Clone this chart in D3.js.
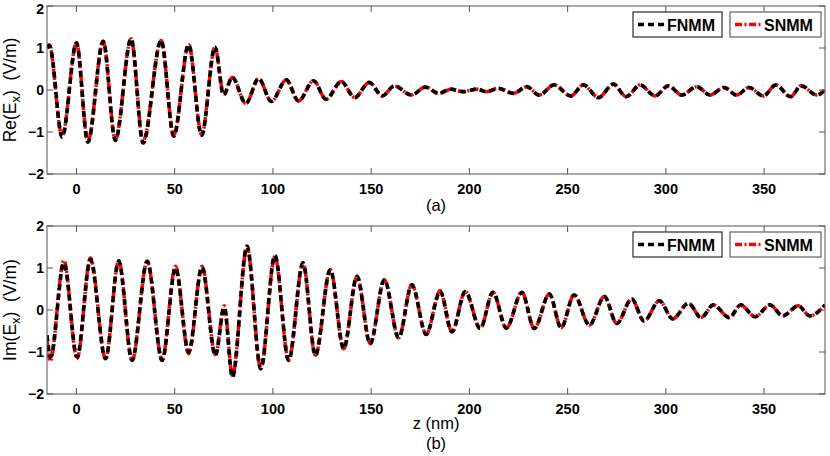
<!DOCTYPE html>
<html>
<head>
<meta charset="utf-8">
<script src="https://cdn.jsdelivr.net/npm/d3@7"></script>
<style>
  body { margin: 0; background: #fff; }
  text { font-family: "Liberation Sans", Arial, Helvetica, sans-serif; }
</style>
</head>
<body>
<svg id="chart" width="830" height="456"></svg>
<script>
// axis ticks
var zTicks = [0, 50, 100, 150, 200, 250, 300, 350];
var fieldTicks = [-2, -1, 0, 1, 2];
var seriesNames = ["FNMM", "SNMM"];

// Re(Ex): [z (nm), value (V/m)] read at the turning points of the curves
var reFNMM = [[-15, 1.0], [-13.7, 1.05], [-7.3, -1.12], [0, 1.12], [5.8, -1.24], [13.6, 1.16],
  [19.8, -1.2], [27.8, 1.22], [33.9, -1.26], [43.1, 1.18], [49.5, -1.1], [57.1, 1.08],
  [63.7, -1.08], [70.5, 1.02], [74.9, -0.12], [79.3, 0.3], [86.2, -0.32], [92.7, 0.27],
  [99.2, -0.27], [106.8, 0.24], [113, -0.26], [120.7, 0.22], [127, -0.22], [134.8, 0.2],
  [141.6, -0.18], [149, 0.18], [155.7, -0.14], [161.8, 0.1], [170.4, -0.12], [177.7, 0.07],
  [184.3, -0.08], [190.6, 0.02], [196.7, -0.04], [203.8, 0.02], [208.9, -0.04], [214.5, 0.04],
  [222.5, -0.08], [229.2, 0.08], [235.5, -0.12], [243.1, 0.12], [251.6, -0.14], [258, 0.12],
  [265.7, -0.18], [273.3, 0.14], [279.8, -0.16], [286.9, 0.12], [294.5, -0.14], [301.3, 0.1],
  [308.1, -0.12], [315.7, 0.08], [322.5, -0.12], [329.6, 0.06], [336, -0.12], [342.3, 0.06],
  [349.6, -0.14], [356, 0.12], [363.5, -0.16], [368.8, 0.1], [376.8, -0.12], [381, 0]];
var reSNMM = [[-15, 1.02], [-13.9, 1.08], [-7.3, -1.1], [0, 1.12], [5.8, -1.22], [13.6, 1.16],
  [19.8, -1.18], [27.8, 1.22], [33.9, -1.22], [43.1, 1.18], [49.5, -1.08], [57.1, 1.08],
  [63.7, -1.06], [70.5, 1.02], [74.9, -0.1], [79.3, 0.3], [86.2, -0.32], [92.7, 0.27],
  [99.2, -0.27], [106.8, 0.24], [113, -0.26], [120.7, 0.22], [127, -0.22], [134.8, 0.2],
  [141.6, -0.18], [149, 0.18], [155.7, -0.14], [161.8, 0.1], [170.4, -0.12], [177.7, 0.07],
  [184.3, -0.08], [190.6, 0.02], [196.7, -0.04], [203.8, 0.02], [208.9, -0.04], [214.5, 0.04],
  [222.5, -0.08], [229.2, 0.08], [235.5, -0.12], [243.1, 0.12], [251.6, -0.14], [258, 0.12],
  [265.7, -0.18], [273.3, 0.14], [279.8, -0.16], [286.9, 0.12], [294.5, -0.14], [301.3, 0.1],
  [308.1, -0.12], [315.7, 0.08], [322.5, -0.12], [329.6, 0.06], [336, -0.12], [342.3, 0.06],
  [349.6, -0.14], [356, 0.12], [363.5, -0.16], [368.8, 0.1], [376.8, -0.12], [381, 0]];

// Im(Ex)
var imFNMM = [[-15, -0.6], [-13.2, -1.12], [-6.4, 1.12], [0.3, -1.12], [7.1, 1.2], [14.8, -1.16],
  [21.5, 1.16], [28.3, -1.2], [36, 1.16], [43.6, -1.2], [50.4, 1.0], [57.1, -1.0],
  [63.9, 1.02], [70.7, -1.08], [75.2, 0.06], [79.4, -1.6], [86.8, 1.52], [93.8, -1.4],
  [101, 1.3], [108, -1.2], [115.3, 1.12], [121.6, -1.08], [129.2, 0.96], [136, -0.92],
  [142.8, 0.8], [149.5, -0.8], [156.7, 0.72], [164, -0.66], [170.7, 0.6], [178, -0.58],
  [185.1, 0.44], [191.1, -0.52], [197.9, 0.44], [205.5, -0.44], [212, 0.42], [218.8, -0.43],
  [226.7, 0.42], [233, -0.44], [240.7, 0.38], [246.7, -0.42], [253.3, 0.36], [261.1, -0.36],
  [268.7, 0.32], [275, -0.32], [282.6, 0.26], [288.9, -0.26], [296.7, 0.22], [303.5, -0.21],
  [311.5, 0.16], [317.9, -0.18], [324.2, 0.12], [332.3, -0.18], [338.1, 0.12], [345.4, -0.16],
  [353, 0.12], [359.5, -0.14], [367.4, 0.1], [373.3, -0.14], [381, 0.12]];
var imSNMM = [[-15, -0.7], [-13.4, -1.22], [-6.4, 1.18], [0.3, -1.16], [7.1, 1.24], [14.8, -1.16],
  [21.5, 1.18], [28.3, -1.2], [36, 1.16], [43.6, -1.18], [50.4, 1.04], [57.1, -1.04],
  [63.9, 1.04], [70.7, -1.06], [75.2, 0.1], [79.4, -1.56], [86.8, 1.5], [93.8, -1.38],
  [101, 1.28], [108, -1.2], [115.3, 1.12], [121.6, -1.08], [129.2, 0.96], [136, -0.92],
  [142.8, 0.8], [149.5, -0.8], [156.7, 0.72], [164, -0.66], [170.7, 0.6], [178, -0.58],
  [185.1, 0.46], [191.1, -0.52], [197.9, 0.44], [205.5, -0.44], [212, 0.42], [218.8, -0.43],
  [226.7, 0.42], [233, -0.44], [240.7, 0.38], [246.7, -0.42], [253.3, 0.36], [261.1, -0.36],
  [268.7, 0.32], [275, -0.32], [282.6, 0.26], [288.9, -0.26], [296.7, 0.22], [303.5, -0.21],
  [311.5, 0.16], [317.9, -0.18], [324.2, 0.12], [332.3, -0.18], [338.1, 0.12], [345.4, -0.16],
  [353, 0.12], [359.5, -0.14], [367.4, 0.1], [373.3, -0.14], [381, 0.12]];

var svg = d3.select("#chart");
var left = 47, right = 825;
var axisColor = "#555";

var x = d3.scaleLinear().domain([-15, 381]).range([left, right]);

function drawPanel(top, bottom, fn, sn, labelHead, tag, showXLabel, id) {
  var y = d3.scaleLinear().domain([-2, 2]).range([bottom, top]);
  var g = svg.append("g");

  g.append("clipPath").attr("id", "clip" + id)
    .append("rect").attr("x", left).attr("y", top)
    .attr("width", right - left).attr("height", bottom - top);

  // inward ticks on all four sides
  var ticks = g.append("g").attr("stroke", axisColor).attr("stroke-width", 1);
  zTicks.forEach(function(t) {
    ticks.append("line").attr("x1", x(t)).attr("x2", x(t)).attr("y1", bottom).attr("y2", bottom - 6);
    ticks.append("line").attr("x1", x(t)).attr("x2", x(t)).attr("y1", top).attr("y2", top + 6);
  });
  fieldTicks.forEach(function(t) {
    ticks.append("line").attr("x1", left).attr("x2", left + 6).attr("y1", y(t)).attr("y2", y(t));
    ticks.append("line").attr("x1", right).attr("x2", right - 6).attr("y1", y(t)).attr("y2", y(t));
  });

  var line = d3.line()
    .x(function(d) { return x(d[0]); })
    .y(function(d) { return y(d[1]); })
    .curve(d3.curveMonotoneX);

  var curves = g.append("g").attr("clip-path", "url(#clip" + id + ")");
  curves.append("path").attr("d", line(sn))
    .attr("fill", "none").attr("stroke", "#ff0000").attr("stroke-width", 3.5)
    .attr("stroke-linejoin", "round")
    .attr("stroke-dasharray", "7,2.5,2,2.5");
  curves.append("path").attr("d", line(fn))
    .attr("fill", "none").attr("stroke", "#000").attr("stroke-width", 3.7)
    .attr("stroke-linejoin", "round")
    .attr("stroke-dasharray", "6,4");

  g.append("rect").attr("x", left).attr("y", top)
    .attr("width", right - left).attr("height", bottom - top)
    .attr("fill", "none").attr("stroke", axisColor).attr("stroke-width", 1);

  // tick labels
  g.selectAll("text.zt").data(zTicks).enter().append("text")
    .attr("class", "zt")
    .attr("x", function(d) { return x(d); })
    .attr("y", bottom + 20)
    .attr("text-anchor", "middle")
    .attr("font-size", 14.5).attr("font-weight", "bold")
    .text(function(d) { return d; });
  g.selectAll("text.ft").data(fieldTicks).enter().append("text")
    .attr("class", "ft")
    .attr("x", left - 3)
    .attr("y", function(d) { return Math.max(y(d) + 5, 13.5); })
    .attr("text-anchor", "end")
    .attr("font-size", 14).attr("font-weight", "bold")
    .text(function(d) { return d < 0 ? "\u2212" + Math.abs(d) : d; });

  // y label with subscript
  var mid = (top + bottom) / 2;
  var yl = g.append("text")
    .attr("transform", "translate(16," + mid + ") rotate(-90)")
    .attr("text-anchor", "middle").attr("font-size", 17.5);
  yl.append("tspan").text(labelHead + "(E");
  yl.append("tspan").attr("dy", 4).attr("font-size", 13).text("x");
  yl.append("tspan").attr("dy", -4).text(")\u00a0\u00a0(V/m)");

  var cx = (left + right) / 2;
  if (showXLabel) {
    g.append("text").attr("x", cx).attr("y", bottom + 35)
      .attr("text-anchor", "middle").attr("font-size", 16.5).text("z (nm)");
    g.append("text").attr("x", cx).attr("y", bottom + 55)
      .attr("text-anchor", "middle").attr("font-size", 16.5).text("(" + tag + ")");
  } else {
    g.append("text").attr("x", cx).attr("y", bottom + 37)
      .attr("text-anchor", "middle").attr("font-size", 16.5).text("(" + tag + ")");
  }

  // legend: two separate boxes
  var lg = g.append("g").attr("transform", "translate(0," + (top + 6) + ")");
  var boxes = [
    { x0: 633, w: 89, stroke: "#000", color: "#000", dash: "6,4" },
    { x0: 730, w: 91, stroke: "#777", color: "#ff0000", dash: "7,2.5,2,2.5" }
  ];
  boxes.forEach(function(b, i) {
    lg.append("rect").attr("x", b.x0).attr("y", 0).attr("width", b.w).attr("height", 25)
      .attr("fill", "#fff").attr("stroke", b.stroke).attr("stroke-width", i ? 1.4 : 1);
    lg.append("line").attr("x1", b.x0 + 5).attr("x2", b.x0 + 33).attr("y1", 12.5).attr("y2", 12.5)
      .attr("stroke", b.color).attr("stroke-width", 3.5).attr("stroke-dasharray", b.dash);
    lg.append("text").attr("x", b.x0 + 34).attr("y", 18.5)
      .attr("font-size", 16).attr("font-weight", "bold").text(seriesNames[i]);
  });
}

drawPanel(6, 174, reFNMM, reSNMM, "Re", "a", false, 1);
drawPanel(226, 394, imFNMM, imSNMM, "Im", "b", true, 2);
</script>
</body>
</html>
